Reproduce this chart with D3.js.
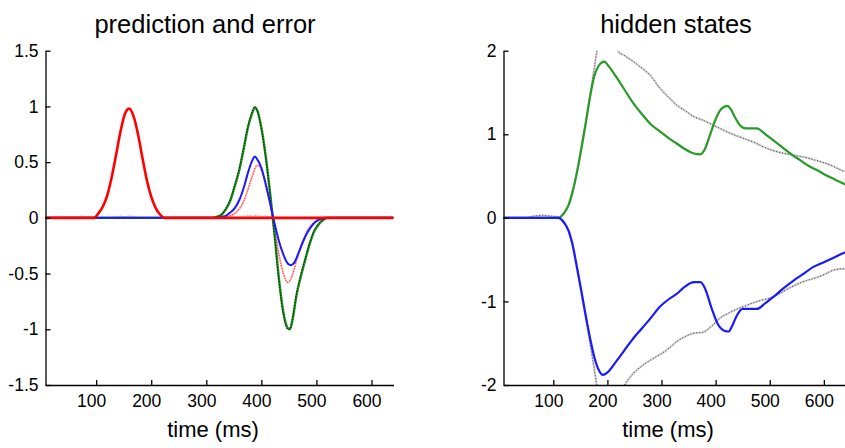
<!DOCTYPE html>
<html>
<head>
<meta charset="utf-8">
<script src="https://cdnjs.cloudflare.com/ajax/libs/d3/7.8.5/d3.min.js"></script>
<style>
	body { margin: 0; background: #fff; }
	svg { display: block; font-family: "Liberation Sans", Arial, sans-serif; }
	.axis path, .axis line { stroke: #000; stroke-width: 1.3; }
	.axis text { font-family: "Liberation Sans", Arial, sans-serif; font-size: 17.5px; fill: #000; }
	.title { font-size: 25.5px; fill: #000; text-anchor: middle; }
	.label { font-size: 22px; fill: #000; text-anchor: middle; }
</style>
</head>
<body>
<svg width="845" height="448"></svg>
<script>
/* ---- prediction and error (left panel) ---- */
const predTicksX = [100, 200, 300, 400, 500, 600];
const predTicksY = [-1.5, -1, -0.5, 0, 0.5, 1, 1.5];

// red prediction: the early bump, flat afterwards
const redTime  = [8, 96, 104, 112, 120, 128, 136, 144, 152, 160, 168, 176, 184, 192, 200, 208, 216, 224, 640];
const redValue = [0, 0, 0.04, 0.1, 0.2, 0.36, 0.56, 0.77, 0.93, 0.98, 0.91, 0.75, 0.54, 0.34, 0.19, 0.09, 0.03, 0, 0];

// small red error wiggles around zero
const redErrTime  = [8, 128, 136, 144, 152, 160, 168, 176, 352, 368, 376, 384, 392, 400, 408, 424, 640];
const redErrValue = [0, 0, 0.01, 0.015, 0.01, 0.015, 0.01, 0, 0, 0.01, 0.02, 0.015, 0.02, 0.01, 0.015, 0, 0];

// green prediction and the (black dotted) response it follows
const greenTime   = [8, 312, 320, 328, 336, 344, 352, 360, 368, 376, 384, 388, 392, 400, 408, 416, 424, 432, 440, 448, 452, 456, 464, 472, 480, 488, 496, 504, 512, 520, 640];
const greenValue  = [0, 0, 0.01, 0.03, 0.08, 0.16, 0.29, 0.43, 0.62, 0.82, 0.95, 0.99, 0.97, 0.81, 0.55, 0.22, -0.15, -0.55, -0.85, -0.99, -1.0, -0.93, -0.69, -0.52, -0.37, -0.23, -0.12, -0.06, -0.02, 0, 0];
const targetValue = [0, 0, 0.01, 0.03, 0.09, 0.17, 0.3, 0.45, 0.64, 0.83, 0.96, 1.0, 0.97, 0.8, 0.53, 0.2, -0.17, -0.57, -0.87, -1.0, -1.0, -0.92, -0.68, -0.5, -0.36, -0.22, -0.11, -0.05, -0.02, 0, 0];

// blue prediction
const blueTime  = [8, 320, 328, 336, 344, 352, 360, 368, 376, 384, 388, 392, 400, 408, 416, 424, 432, 440, 448, 454, 460, 468, 476, 484, 492, 500, 508, 516, 640];
const blueValue = [0, 0, 0.01, 0.02, 0.05, 0.09, 0.16, 0.27, 0.41, 0.52, 0.55, 0.53, 0.45, 0.3, 0.13, -0.05, -0.21, -0.33, -0.41, -0.425, -0.4, -0.31, -0.21, -0.13, -0.07, -0.03, -0.01, 0, 0];

// red dotted error
const pinkTime  = [8, 328, 336, 344, 352, 360, 368, 376, 384, 392, 396, 400, 408, 416, 424, 432, 440, 448, 456, 464, 472, 480, 488, 496, 504, 512, 640];
const pinkValue = [0, 0, 0.01, 0.02, 0.04, 0.08, 0.15, 0.26, 0.38, 0.47, 0.47, 0.43, 0.31, 0.12, -0.1, -0.33, -0.5, -0.58, -0.52, -0.38, -0.25, -0.15, -0.08, -0.04, -0.01, 0, 0];

/* ---- hidden states (right panel) ---- */
const hidTicksX = [100, 200, 300, 400, 500, 600];
const hidTicksY = [-2, -1, 0, 1, 2];

const upTime  = [8, 110, 120, 128, 136, 144, 152, 160, 168, 176, 184, 194, 204, 216, 232, 248, 264, 280, 296, 312, 328, 344, 360, 372, 380, 390, 400, 410, 422, 428, 436, 446, 456, 476, 492, 508, 524, 540, 556, 572, 588, 604, 620, 640];
const upValue = [0, 0, 0.06, 0.15, 0.32, 0.55, 0.83, 1.13, 1.45, 1.7, 1.82, 1.87, 1.8, 1.69, 1.53, 1.37, 1.24, 1.12, 1.04, 0.96, 0.89, 0.82, 0.77, 0.76, 0.82, 1.0, 1.18, 1.3, 1.34, 1.3, 1.2, 1.1, 1.07, 1.07, 1.0, 0.92, 0.84, 0.76, 0.69, 0.62, 0.57, 0.51, 0.46, 0.4];

const downTime  = [8, 110, 120, 128, 136, 144, 152, 160, 168, 176, 184, 192, 200, 216, 232, 248, 264, 280, 296, 312, 328, 344, 360, 372, 380, 392, 404, 416, 424, 430, 440, 450, 476, 492, 508, 524, 544, 560, 580, 600, 620, 640];
const downValue = [0, 0, -0.06, -0.15, -0.33, -0.6, -0.88, -1.17, -1.44, -1.67, -1.82, -1.88, -1.85, -1.72, -1.58, -1.44, -1.32, -1.2, -1.07, -0.98, -0.91, -0.82, -0.77, -0.77, -0.84, -1.07, -1.27, -1.35, -1.36, -1.3, -1.16, -1.09, -1.09, -1.02, -0.94, -0.85, -0.75, -0.68, -0.59, -0.53, -0.47, -0.41];

// true states (gray dotted), they leave the plot at the top and bottom
const upTrueTime  = [8, 48, 64, 80, 96, 112, 120, 128, 136, 144, 152, 160, 168, 176, 184, 196, 208, 220, 232, 248, 264, 280, 296, 312, 328, 344, 360, 376, 392, 408, 424, 440, 456, 472, 488, 504, 520, 536, 552, 568, 584, 600, 616, 632, 640];
const upTrueValue = [0, 0, 0.02, 0.03, 0.02, 0.01, 0.05, 0.15, 0.33, 0.57, 0.86, 1.16, 1.47, 1.8, 2.12, 2.35, 2.2, 1.99, 1.94, 1.87, 1.79, 1.7, 1.56, 1.45, 1.35, 1.28, 1.21, 1.17, 1.12, 1.07, 1.02, 0.98, 0.94, 0.9, 0.85, 0.81, 0.78, 0.76, 0.74, 0.72, 0.69, 0.66, 0.62, 0.57, 0.55];

const downTrueTime  = [8, 104, 116, 128, 136, 144, 152, 160, 168, 176, 184, 196, 212, 232, 248, 264, 280, 296, 312, 328, 344, 360, 376, 392, 408, 424, 440, 456, 472, 488, 504, 520, 536, 552, 568, 584, 600, 616, 632, 640];
const downTrueValue = [0, 0, -0.02, -0.16, -0.35, -0.62, -0.9, -1.2, -1.5, -1.82, -2.15, -2.35, -2.3, -2.0, -1.86, -1.77, -1.7, -1.64, -1.57, -1.48, -1.42, -1.38, -1.37, -1.3, -1.2, -1.14, -1.09, -1.05, -1.01, -0.98, -0.95, -0.9, -0.84, -0.79, -0.75, -0.72, -0.68, -0.63, -0.61, -0.61];

const timeDomain = [8, 640];

document.addEventListener("DOMContentLoaded", function() {
	const svg = d3.select("svg");

	const left = drawPanel(svg, {
		id: "pred",
		xRange: [45.5, 393.5],
		yDomain: [-1.5, 1.5],
		ticksX: predTicksX,
		ticksY: predTicksY,
		title: "prediction and error",
		titleX: 205,
		labelX: 213
	});

	// dotted red error under everything
	addLine(left, redErrTime, redErrValue, "#ff7070", 1.2, "1,1.5");
	addLine(left, pinkTime, pinkValue, "#ffc0c0", 2, null);
	addLine(left, pinkTime, pinkValue, "#ff2020", 1.1, "1,1.6");
	addLine(left, greenTime, greenValue, "#1c8c1c", 2.4, null);
	addLine(left, greenTime, targetValue, "#000", 1, "1,1.8");
	addLine(left, blueTime, blueValue, "#1a1aff", 2, null);
	addLine(left, redTime, redValue, "#ff0000", 2.6, null);

	const right = drawPanel(svg, {
		id: "hid",
		xRange: [503.5, 845.5],
		yDomain: [-2, 2],
		ticksX: hidTicksX,
		ticksY: hidTicksY,
		title: "hidden states",
		titleX: 676,
		labelX: 668
	});

	// the true states go first so the estimates cover the flat start
	[[upTrueTime, upTrueValue], [downTrueTime, downTrueValue]].forEach(s => {
		addLine(right, s[0], s[1], "#d4d4d4", 2.2, null);	// soft halo
		addLine(right, s[0], s[1], "#333", 1, "1,2");	// the dots
	});
	addLine(right, upTime, upValue, "#269c26", 2.2, null);
	addLine(right, downTime, downValue, "#1a1aff", 2.2, null);
});

/**
 * @method drawPanel draws one subplot: axes, ticks, title and x label
 * @return {Object} the scales and the clipped group for the lines
 */
function drawPanel(svg, o) {
	const top = 50.7, bottom = 385;

	const x = d3.scaleLinear().domain(timeDomain).range(o.xRange);
	const y = d3.scaleLinear().domain(o.yDomain).range([bottom, top]);

	svg.append("clipPath")
	   .attr("id", "clip-" + o.id)
	   .append("rect")
	   .attr("x", o.xRange[0])
	   .attr("y", top)
	   .attr("width", o.xRange[1] - o.xRange[0])
	   .attr("height", bottom - top);

	const plot = svg.append("g").attr("clip-path", `url(#clip-${o.id})`);

	// matlab style: ticks point into the plot, no box
	const xAxis = d3.axisBottom(x)
					.tickValues(o.ticksX)
					.tickSizeInner(-5)
					.tickSizeOuter(0)
					.tickPadding(10);

	const yAxis = d3.axisLeft(y)
					.tickValues(o.ticksY)
					.tickSizeInner(-5)
					.tickSizeOuter(0)
					.tickPadding(7)
					.tickFormat(d => String(d));

	svg.append("g")
	   .attr("class", "axis")
	   .attr("transform", `translate(0, ${bottom})`)
	   .call(xAxis)
	   .selectAll("text")
	   .attr("dx", -5);		// the labels sit a little left of their ticks in the original

	svg.append("g")
	   .attr("class", "axis")
	   .attr("transform", `translate(${o.xRange[0]}, 0)`)
	   .call(yAxis);

	svg.append("text")
	   .attr("class", "title")
	   .attr("x", o.titleX)
	   .attr("y", 33)
	   .text(o.title);

	svg.append("text")
	   .attr("class", "label")
	   .attr("x", o.labelX)
	   .attr("y", 437)
	   .text("time (ms)");

	return { x, y, plot };
}

/**
 * @method addLine draws one series from its time and value arrays
 */
function addLine(panel, time, value, color, width, dash) {
	const line = d3.line()
				   .x(d => panel.x(d[0]))
				   .y(d => panel.y(d[1]))
				   .curve(d3.curveMonotoneX);

	panel.plot.append("path")
		 .datum(d3.zip(time, value))
		 .attr("d", line)
		 .attr("fill", "none")
		 .attr("stroke", color)
		 .attr("stroke-width", width)
		 .attr("stroke-dasharray", dash)
		 .attr("stroke-linejoin", "round");
}
</script>
</body>
</html>
